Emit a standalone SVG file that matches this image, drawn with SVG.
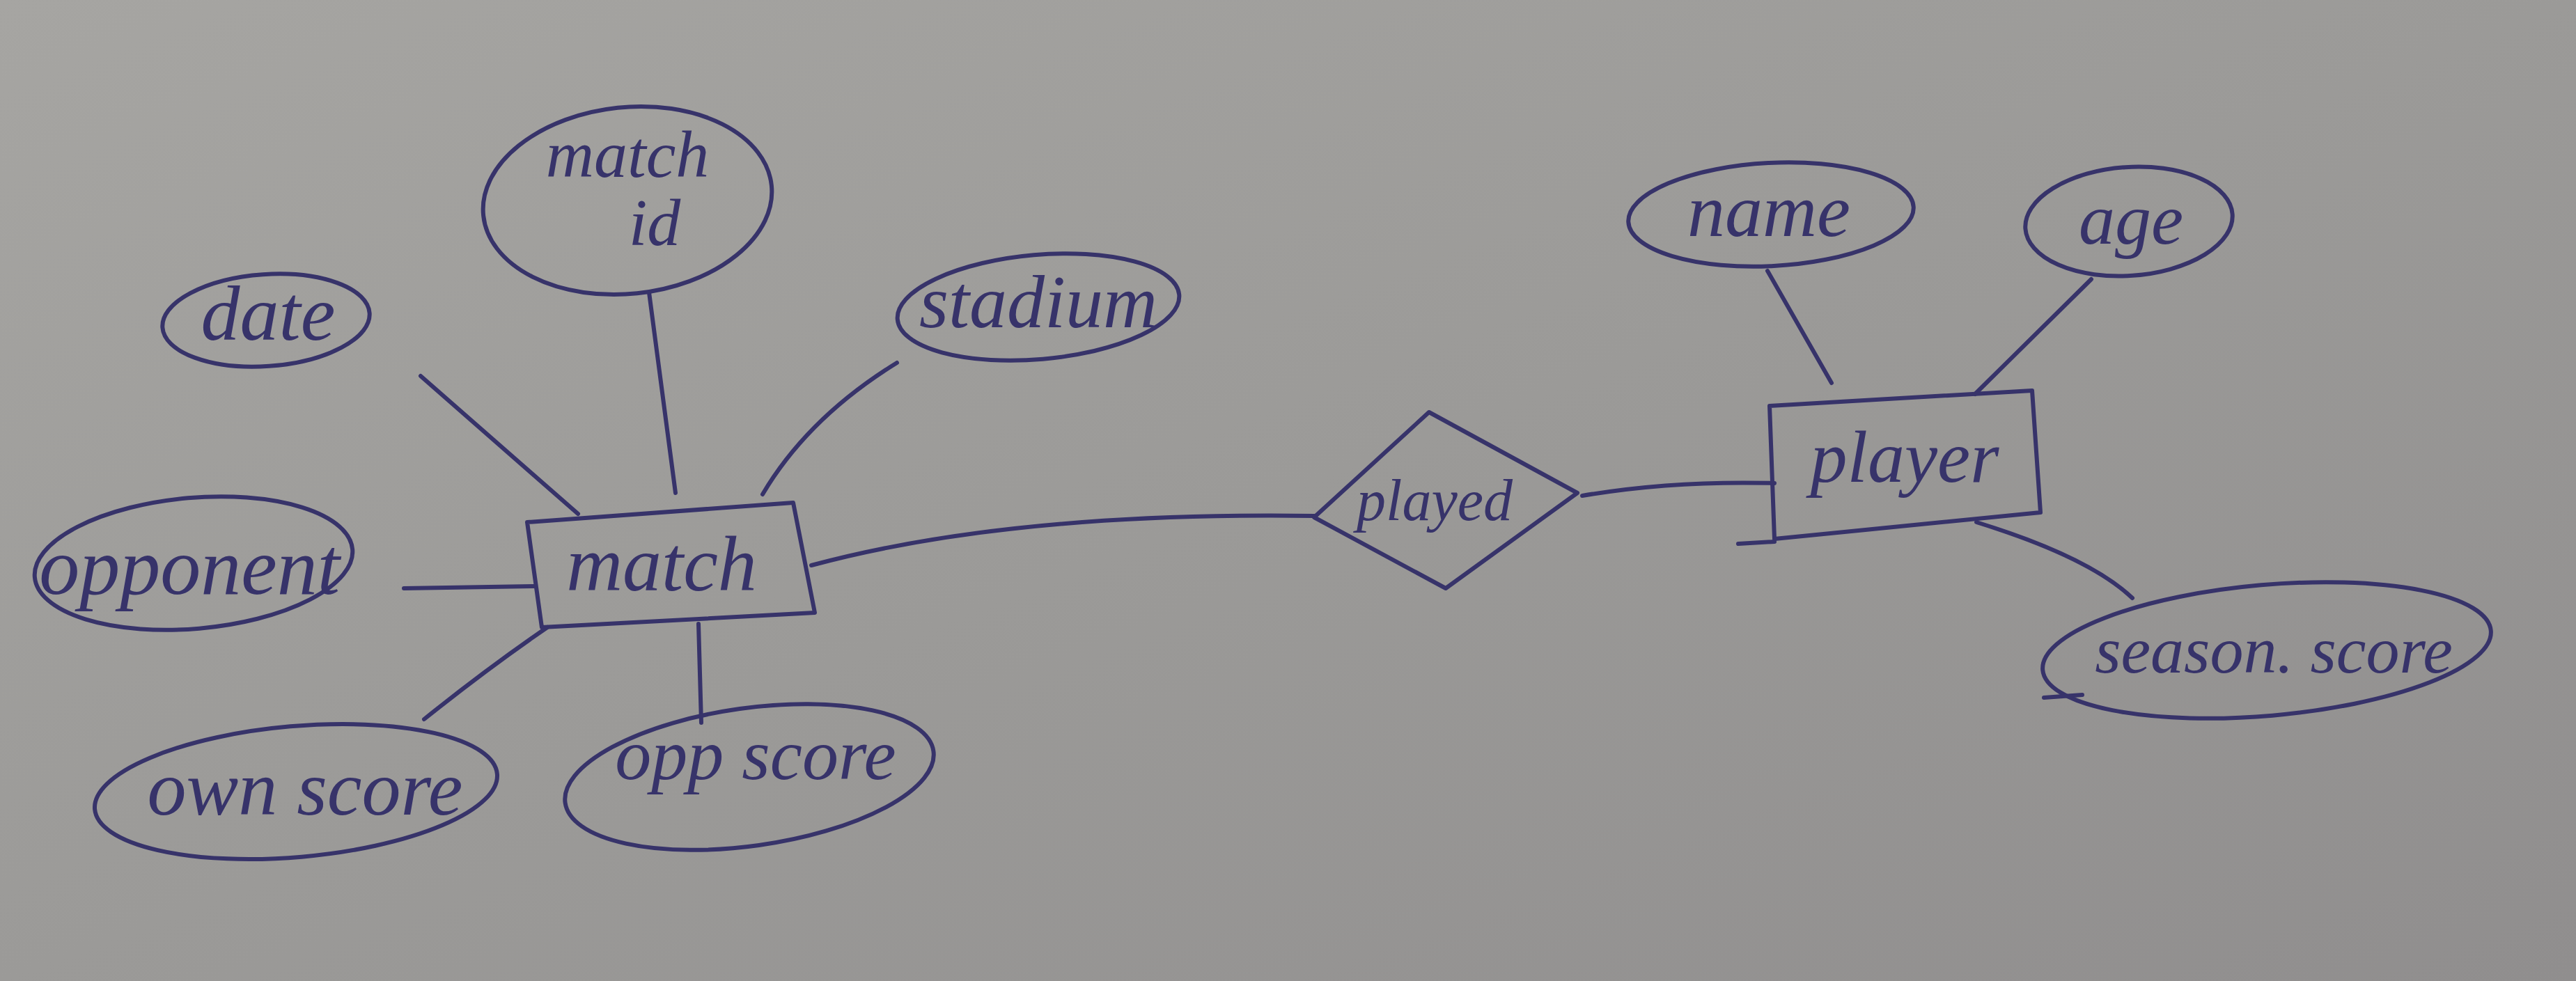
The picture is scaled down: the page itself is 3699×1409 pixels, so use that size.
<svg xmlns="http://www.w3.org/2000/svg" width="3699" height="1409" viewBox="0 0 3699 1409">
<defs>
<linearGradient id="paper" x1="0" y1="0" x2="1" y2="1">
<stop offset="0" stop-color="#a6a5a2"/>
<stop offset="0.5" stop-color="#9b9a98"/>
<stop offset="1" stop-color="#908e8e"/>
</linearGradient>
<style>
.ink{fill:none;stroke:#37336a;stroke-width:6;stroke-linecap:round;stroke-linejoin:round}
.lbl{font-family:"Liberation Serif",serif;font-style:italic;fill:#37336a;text-anchor:middle;dominant-baseline:middle}
</style>
</defs>
<rect x="0" y="0" width="3699" height="1409" fill="url(#paper)"/>
<g id="connectors">
<path class="ink" d="M604,540 L830,738"/>
<path class="ink" d="M932,420 L970,708"/>
<path class="ink" d="M1288,521 Q1160,600 1095,710"/>
<path class="ink" d="M580,845 L767,842"/>
<path class="ink" d="M609,1033 Q700,960 786,901"/>
<path class="ink" d="M1003,896 L1007,1038"/>
<path class="ink" d="M1165,812 Q1450,735 1887,741"/>
<path class="ink" d="M2272,712 Q2400,690 2548,694"/>
<path class="ink" d="M2538,389 L2630,550"/>
<path class="ink" d="M3003,401 L2836,566"/>
<path class="ink" d="M3062,859 Q3000,800 2838,750"/>
</g>
<g id="match-id"><ellipse class="ink" cx="901" cy="288" rx="208" ry="134" transform="rotate(-6 901 288)"/><text class="lbl" x="901" y="232" font-size="96">match</text><text class="lbl" x="940" y="330" font-size="96">id</text></g>
<g id="date"><ellipse class="ink" cx="382" cy="460" rx="149" ry="66" transform="rotate(-4 382 460)"/><text class="lbl" x="385" y="462" font-size="112">date</text></g>
<g id="stadium"><ellipse class="ink" cx="1491" cy="441" rx="203" ry="75" transform="rotate(-5 1491 441)"/><text class="lbl" x="1491" y="445" font-size="108">stadium</text></g>
<g id="opponent"><ellipse class="ink" cx="278" cy="809" rx="229" ry="94" transform="rotate(-5 278 809)"/><text class="lbl" x="272" y="826" font-size="116">opponent</text></g>
<g id="own-score"><ellipse class="ink" cx="425" cy="1137" rx="290" ry="94" transform="rotate(-5 425 1137)"/><text class="lbl" x="438" y="1144" font-size="112">own score</text></g>
<g id="opp-score"><ellipse class="ink" cx="1076" cy="1116" rx="267" ry="99" transform="rotate(-8 1076 1116)"/><text class="lbl" x="1085" y="1095" font-size="104">opp score</text></g>
<g id="match"><polygon class="ink" points="757,750 1139,722 1170,880 778,901"/><text class="lbl" x="950" y="822" font-size="112">match</text></g>
<g id="played"><polygon class="ink" points="1887,743 2052,592 2265,708 2076,845"/><text class="lbl" x="2060" y="728" font-size="84">played</text></g>
<g id="player"><polygon class="ink" points="2541,583 2918,561 2930,736 2548,774"/><path class="ink" d="M2496,781 L2548,778"/><text class="lbl" x="2735" y="668" font-size="106">player</text></g>
<g id="name"><ellipse class="ink" cx="2543" cy="308" rx="205" ry="74" transform="rotate(-3 2543 308)"/><text class="lbl" x="2540" y="314" font-size="108">name</text></g>
<g id="age"><ellipse class="ink" cx="3057" cy="318" rx="149" ry="78" transform="rotate(-4 3057 318)"/><text class="lbl" x="3060" y="326" font-size="104">age</text></g>
<g id="season-score"><ellipse class="ink" cx="3255" cy="934" rx="323" ry="94" transform="rotate(-5 3255 934)"/><path class="ink" d="M2935,1002 L2990,998"/><text class="lbl" x="3265" y="944" font-size="96">season. score</text></g>
</svg>
